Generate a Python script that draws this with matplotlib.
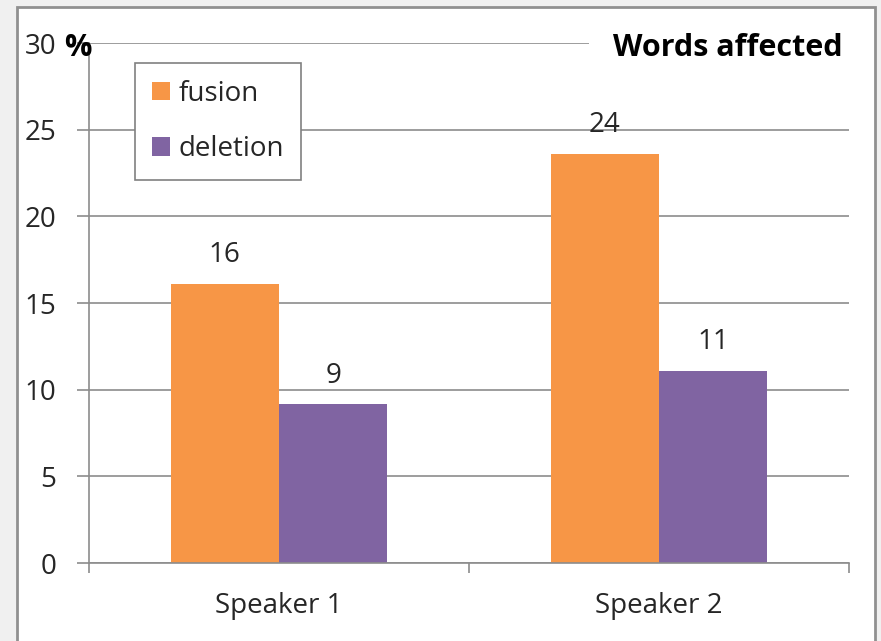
import matplotlib.pyplot as plt
from matplotlib.patches import Rectangle
import numpy as np

speakers = ["Speaker 1", "Speaker 2"]
fusion = [16.1, 23.6]
deletion = [9.15, 11.1]
fusion_labels = ["16", "24"]
deletion_labels = ["9", "11"]
y_ticks = [0, 5, 10, 15, 20, 25, 30]

ORANGE = "#F79646"
PURPLE = "#8064A2"
GRAY = "#8c8c8c"
TEXT = "#262626"
FONT = "Open Sans"
FS = 20

W, H = 881, 641
fig = plt.figure(figsize=(W / 100, H / 100), dpi=100, facecolor="#f0f0f0")
# white slide frame behind the chart
fig.patches.append(Rectangle((17 / W, -0.05), (875 - 17) / W, 1 - 7 / H + 0.05,
                             transform=fig.transFigure, facecolor="white",
                             edgecolor="#909090", linewidth=2, zorder=-1))

ax = fig.add_axes([89 / W, 1 - 563 / H, 760 / W, 520 / H])
ax.set_facecolor("none")

x = np.arange(len(speakers))
width = 0.285
b1 = ax.bar(x - width / 2, fusion, width, color=ORANGE, label="fusion", zorder=2)
b2 = ax.bar(x + width / 2, deletion, width, color=PURPLE, label="deletion", zorder=2)
for bars, labels in ((b1, fusion_labels), (b2, deletion_labels)):
    for rect, lab in zip(bars, labels):
        ax.annotate(lab, (rect.get_x() + rect.get_width() / 2, rect.get_height()),
                    xytext=(0, 20.5), textcoords="offset points", ha="center", va="center",
                    fontsize=FS, family=FONT, color=TEXT, zorder=3)

ax.set_xlim(-0.5, 1.5)
ax.set_ylim(0, 30)
ax.set_yticks(y_ticks)
ax.set_yticklabels([str(v) for v in y_ticks], fontsize=FS, family=FONT, color=TEXT)
ax.tick_params(axis="y", length=8.6, width=1.2, color=GRAY, pad=15)
ax.yaxis.grid(True, color=GRAY, linewidth=1.2, zorder=0)
ax.set_axisbelow(True)

ax.set_xticks([-0.5, 0.5, 1.5])
ax.set_xticklabels([])
ax.set_xticks(x, minor=True)
ax.set_xticklabels(speakers, minor=True, fontsize=FS, family=FONT, color=TEXT)
ax.tick_params(axis="x", which="major", length=7, width=1.2, color=GRAY)
ax.tick_params(axis="x", which="minor", length=0, pad=21)

for side in ("top", "right"):
    ax.spines[side].set_visible(False)
for side in ("left", "bottom"):
    ax.spines[side].set_color(GRAY)
    ax.spines[side].set_linewidth(1.2)

# cover the top gridline behind the title
ax.add_patch(Rectangle((0.658, 0.97), 0.36, 0.06, transform=ax.transAxes,
                       facecolor="white", edgecolor="none", clip_on=False, zorder=2))

leg = ax.legend(loc="upper left", bbox_to_anchor=(0.0605, 0.9615), borderaxespad=0,
                prop={"family": FONT, "size": FS}, fancybox=False, framealpha=1,
                edgecolor="#808080", handlelength=0.65, handleheight=0.65,
                handletextpad=0.32, labelspacing=1.0, borderpad=0.6)
leg.get_frame().set_linewidth(1.2)
for t in leg.get_texts():
    t.set_color(TEXT)

fig.text(64 / W, 1 - 48 / H, "%", fontsize=22, fontweight="bold", family=FONT,
         ha="left", va="center", color="black")
fig.text(843 / W, 1 - 48 / H, "Words affected", fontsize=22, fontweight="bold",
         family=FONT, ha="right", va="center", color="black")

fig.savefig("out.png", dpi=100, facecolor=fig.get_facecolor())
